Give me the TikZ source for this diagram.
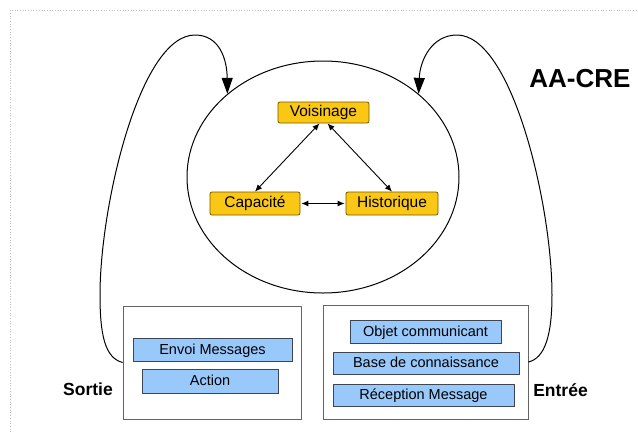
\documentclass[tikz,border=0pt]{standalone}
\usepackage{fontspec}
\setmainfont{Liberation Sans}
\usetikzlibrary{shapes.geometric,arrows.meta}
\definecolor{jaune}{RGB}{250,200,20}
\definecolor{jauneb}{RGB}{120,85,0}
\definecolor{bleu}{RGB}{153,200,250}
\definecolor{bleub}{RGB}{60,70,85}
\definecolor{cadreg}{RGB}{100,100,100}
\begin{document}
\begin{tikzpicture}[x=1pt,y=-1pt,
  jbox/.style={draw=jauneb, fill=jaune, rounded corners=2pt, line width=0.8pt, inner sep=0pt,
    font=\fontsize{15.5}{17}\selectfont, text height=0.74em, text depth=0.02em},
  bbox/.style={draw=bleub, fill=bleu, line width=0.8pt, inner sep=0pt,
    font=\fontsize{14.5}{16}\selectfont, text height=0.95em, text depth=0.02em},
  cadre/.style={draw=cadreg, fill=white, line width=0.8pt, inner sep=0pt},
  lbl/.style={font=\bfseries\fontsize{17.5}{20}\selectfont, inner sep=0pt},
  lien/.style={line width=0.9pt, {Latex[length=7pt,width=6pt]}-{Latex[length=7pt,width=6pt]}},
  boucle/.style={line width=1pt, -{Triangle[length=16pt,width=11pt]}}]
\useasboundingbox (0,0) rectangle (638,432);
\fill[white] (0,0) rectangle (638,432);
\draw[gray!50, dotted, line width=0.7pt] (10,432) -- (10,10) -- (638,10);

% ellipse
\node[draw, ellipse, line width=1pt, minimum width=272pt, minimum height=232pt, inner sep=0pt] (cercle) at (323,177) {};

% yellow boxes
\node[jbox, minimum width=91pt, minimum height=21pt] (voisinage) at (323.5,112.5) {Voisinage};
\node[jbox, minimum width=90pt, minimum height=23pt] (capacite) at (255,203.5) {Capacité};
\node[jbox, minimum width=92pt, minimum height=23pt] (historique) at (392,203.5) {Historique};

\draw[lien] ([xshift=-4pt]voisinage.south) -- (capacite.north);
\draw[lien] ([xshift=4pt]voisinage.south) -- (historique.north);
\draw[lien] ([xshift=1pt]capacite.east) -- ([xshift=-1pt]historique.west);

% frames
\node[cadre, minimum width=178pt, minimum height=113pt] (sortie) at (212,362.5) {};
\node[cadre, minimum width=205pt, minimum height=114pt] (entree) at (425.5,362) {};

\node[bbox, minimum width=159pt, minimum height=23pt] (envoi) at (212.5,349.5) {Envoi Messages};
\node[bbox, minimum width=136pt, minimum height=24pt] (action) at (210,381) {Action};

\node[bbox, minimum width=151pt, minimum height=23pt] (objet) at (425.5,331.5) {Objet communicant};
\node[bbox, minimum width=186pt, minimum height=22pt] (base) at (426,363) {Base de connaissance};
\node[bbox, minimum width=181pt, minimum height=22pt] (reception) at (423.5,395) {Réception Message};

% labels
\node[lbl] (lsortie) at (88,389) {Sortie};
\node[lbl] (lentree) at (560.5,390) {Entrée};
\node[font=\bfseries\fontsize{26}{30}\selectfont, inner sep=0pt] (titre) at (580,79) {AA-CRE};

% loops
\draw[boucle] (sortie.west) .. controls (105,358) and (100,335) .. (100,295)
  .. controls (100,205) and (140,35) .. (195,35)
  .. controls (220,35) and (227,60) .. (cercle.139.5);
\draw[boucle] (entree.east) .. controls (545,358) and (552,335) .. (552,295)
  .. controls (552,205) and (512,35) .. (457,35)
  .. controls (432,35) and (420,60) .. (cercle.41);
\end{tikzpicture}
\end{document}
